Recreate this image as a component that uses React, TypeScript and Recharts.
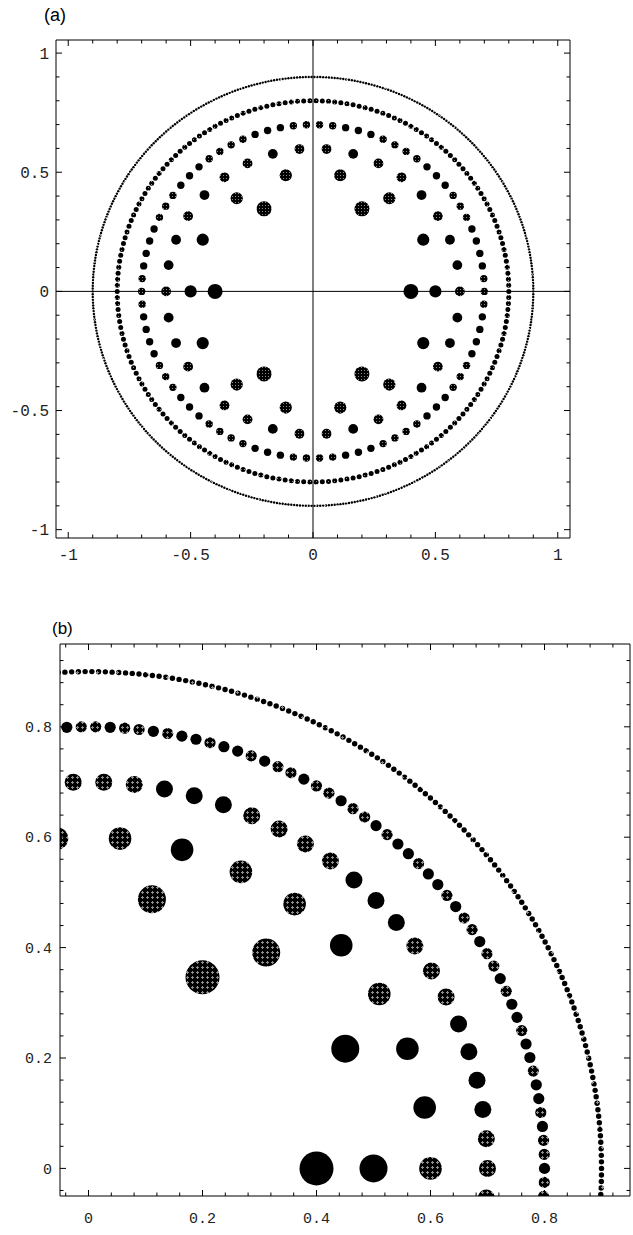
import React from 'react';
import { ScatterChart, Scatter, XAxis, YAxis, ReferenceLine } from 'recharts';

// rings of points: radius and number of points on each
const RING_RADIUS = [0.4, 0.5, 0.6, 0.7, 0.8, 0.9];
const RING_COUNT = [6, 14, 34, 82, 198, 478];
// solid (B) / hatched (H) sequence read along the first quadrant, from angle 0 upward
const RING_SHADE = [
  'BH',
  'BBHH',
  'HBBHBHHBH',
  'HHBBBBHHHBBBHHHHBBBHH',
  'BHHBHBBHBB' + 'HBBHBHHBHH' + 'BHBBHBBHBH' + 'HBHHBHHBHB' + 'BHBBHBHHBH',
  'BBBHBBHBBB' + 'HBBHBBBHBB' + 'HBBBHBBHBB' + 'BHBBHBBBHB' + 'BHBBBHBBHB' + 'BBHBBHBBBH' +
    'BBHBBBHBBH' + 'BBBHBBHBBB' + 'HBBHBBBHBB' + 'HBBBHBBHBB' + 'BHBBHBBBHB' + 'BHBBBHBBHB',
];

const A_TICKS = [-1, -0.9, -0.8, -0.7, -0.6, -0.5, -0.4, -0.3, -0.2, -0.1, 0, 0.1, 0.2, 0.3, 0.4, 0.5, 0.6, 0.7, 0.8, 0.9, 1];
const A_LABELS = [-1, -0.5, 0, 0.5, 1];
const B_TICKS = [-0.04, 0, 0.04, 0.08, 0.12, 0.16, 0.2, 0.24, 0.28, 0.32, 0.36, 0.4, 0.44, 0.48, 0.52, 0.56, 0.6, 0.64, 0.68, 0.72, 0.76, 0.8, 0.84, 0.88, 0.92];
const B_LABELS = [0, 0.2, 0.4, 0.6, 0.8];

// dot radius (px) of each ring in the two panels
const DOT_R_A = [7.5, 6.1, 4.9, 3.7, 2.5, 1.2];
const DOT_R_B = [17, 14, 11.3, 8.5, 5.6, 2.7];

type Pt = { x: number; y: number; h: boolean };

function ringPoints(i: number): Pt[] {
  const n = RING_COUNT[i];
  const r = RING_RADIUS[i];
  const shade = RING_SHADE[i];
  const pts: Pt[] = [];
  for (let k = 0; k < n; k++) {
    // the shading is mirror symmetric about both axes
    let q = Math.min(k, n - k);
    if (q > n / 4) q = n / 2 - q;
    const a = (2 * Math.PI * k) / n;
    pts.push({ x: r * Math.cos(a), y: r * Math.sin(a), h: shade[q] === 'H' });
  }
  return pts;
}

const RINGS = RING_RADIUS.map((_, i) => ringPoints(i));
const RINGS_B = RINGS.map(pts => pts.filter(p => p.x > -0.1 && p.y > -0.1));

const AXIS = { stroke: '#000', strokeWidth: 1 };
const TICK_FONT = '"Liberation Mono", "DejaVu Sans Mono", monospace';

function frameTick(side: string, labels: number[], major: number, minor: number, fontSize: number, gap: number) {
  return (props: any) => {
    const { x, y, payload } = props;
    const v = payload.value;
    const isMajor = labels.some(l => Math.abs(l - v) < 1e-6);
    const len = isMajor ? major : minor;
    const txt = String(v);
    if (side === 'bottom') {
      return (
        <g>
          <line x1={x} y1={y} x2={x} y2={y - len} stroke="#000" strokeWidth={1} />
          {isMajor && <text x={x} y={y + gap} textAnchor="middle" fontSize={fontSize} fontFamily={TICK_FONT} fill="#222">{txt}</text>}
        </g>
      );
    }
    if (side === 'left') {
      return (
        <g>
          <line x1={x} y1={y} x2={x + len} y2={y} stroke="#000" strokeWidth={1} />
          {isMajor && <text x={x - gap} y={y} dy="0.35em" textAnchor="end" fontSize={fontSize} fontFamily={TICK_FONT} fill="#222">{txt}</text>}
        </g>
      );
    }
    if (side === 'top') return <line x1={x} y1={y} x2={x} y2={y + len} stroke="#000" strokeWidth={1} />;
    return <line x1={x} y1={y} x2={x - len} y2={y} stroke="#000" strokeWidth={1} />;
  };
}

function dotShape(r: number, hatch: string) {
  return (props: any) => {
    const { cx, cy, payload } = props;
    if (cx == null || cy == null) return <g />;
    return <circle cx={cx} cy={cy} r={r} fill={payload.h ? `url(#${hatch})` : '#000'} />;
  };
}

function HatchA({ id }: { id: string }) {
  return (
    <pattern id={id} patternUnits="userSpaceOnUse" width={3} height={3}>
      <rect width={3} height={3} fill="#000" />
      <rect x={1} y={1} width={1} height={1} fill="#8c8c8c" />
    </pattern>
  );
}

function HatchB({ id }: { id: string }) {
  return (
    <pattern id={id} patternUnits="userSpaceOnUse" width={5} height={5}>
      <rect width={5} height={5} fill="#000" />
      <rect x={1} y={2} width={3} height={1} fill="#8c8c8c" />
      <rect x={2} y={1} width={1} height={3} fill="#8c8c8c" />
    </pattern>
  );
}

const labelStyle: React.CSSProperties = {
  position: 'absolute',
  fontFamily: '"Liberation Sans", Arial, sans-serif',
  fontSize: 18,
  lineHeight: '18px',
  color: '#000',
};

export default function App() {
  return (
    <div style={{ position: 'absolute', left: 0, top: 0, width: 633, height: 1235, background: '#fff', overflow: 'hidden' }}>
      <div style={{ ...labelStyle, left: 44, top: 6 }}>(a)</div>
      <div style={{ position: 'absolute', left: 0, top: 0 }}>
        <ScatterChart width={633} height={580} margin={{ top: 39, right: 62, bottom: 12, left: 6 }}>
          <defs>
            <HatchA id="hatchA" />
          </defs>
          <XAxis xAxisId="top" orientation="top" type="number" dataKey="x" domain={[-1.05, 1.05]} allowDataOverflow
            ticks={A_TICKS} interval={0} height={1} tickSize={0} tickMargin={0} tickLine={false} axisLine={AXIS}
            tick={frameTick('top', A_LABELS, 6, 3.5, 16, 0)} />
          <YAxis yAxisId="right" orientation="right" type="number" dataKey="y" domain={[-1.035, 1.055]} allowDataOverflow
            ticks={A_TICKS} interval={0} width={1} tickSize={0} tickMargin={0} tickLine={false} axisLine={AXIS}
            tick={frameTick('right', A_LABELS, 6, 3.5, 16, 0)} />
          <XAxis type="number" dataKey="x" domain={[-1.05, 1.05]} allowDataOverflow
            ticks={A_TICKS} interval={0} height={30} tickSize={0} tickMargin={0} tickLine={false} axisLine={AXIS}
            tick={frameTick('bottom', A_LABELS, 6, 3.5, 16, 22)} />
          <YAxis type="number" dataKey="y" domain={[-1.035, 1.055]} allowDataOverflow
            ticks={A_TICKS} interval={0} width={50} tickSize={0} tickMargin={0} tickLine={false} axisLine={AXIS}
            tick={frameTick('left', A_LABELS, 6, 3.5, 16, 7)} />
          <ReferenceLine x={0} stroke="#000" strokeWidth={1} />
          <ReferenceLine y={0} stroke="#000" strokeWidth={1} />
          {RINGS.map((pts, i) => (
            <Scatter key={i} data={pts} isAnimationActive={false} shape={dotShape(DOT_R_A[i], 'hatchA')} />
          ))}
        </ScatterChart>
      </div>

      <div style={{ ...labelStyle, left: 52, top: 620, fontSize: 17 }}>(b)</div>
      <div style={{ position: 'absolute', left: 0, top: 580 }}>
        <ScatterChart width={633} height={655} margin={{ top: 63, right: 2, bottom: 9, left: 10 }}>
          <defs>
            <HatchB id="hatchB" />
          </defs>
          <XAxis xAxisId="top" orientation="top" type="number" dataKey="x" domain={[-0.05, 0.95]} allowDataOverflow
            ticks={B_TICKS} interval={0} height={1} tickSize={0} tickMargin={0} tickLine={false} axisLine={AXIS}
            tick={frameTick('top', B_LABELS, 6, 3.5, 15, 0)} />
          <YAxis yAxisId="right" orientation="right" type="number" dataKey="y" domain={[-0.05, 0.95]} allowDataOverflow
            ticks={B_TICKS} interval={0} width={1} tickSize={0} tickMargin={0} tickLine={false} axisLine={AXIS}
            tick={frameTick('right', B_LABELS, 6, 3.5, 15, 0)} />
          <XAxis type="number" dataKey="x" domain={[-0.05, 0.95]} allowDataOverflow
            ticks={B_TICKS} interval={0} height={30} tickSize={0} tickMargin={0} tickLine={false} axisLine={AXIS}
            tick={frameTick('bottom', B_LABELS, 6, 3.5, 15, 27)} />
          <YAxis type="number" dataKey="y" domain={[-0.05, 0.95]} allowDataOverflow
            ticks={B_TICKS} interval={0} width={50} tickSize={0} tickMargin={0} tickLine={false} axisLine={AXIS}
            tick={frameTick('left', B_LABELS, 6, 3.5, 15, 8)} />
          {RINGS_B.map((pts, i) => (
            <Scatter key={i} data={pts} isAnimationActive={false} shape={dotShape(DOT_R_B[i], 'hatchB')} />
          ))}
        </ScatterChart>
      </div>
    </div>
  );
}
